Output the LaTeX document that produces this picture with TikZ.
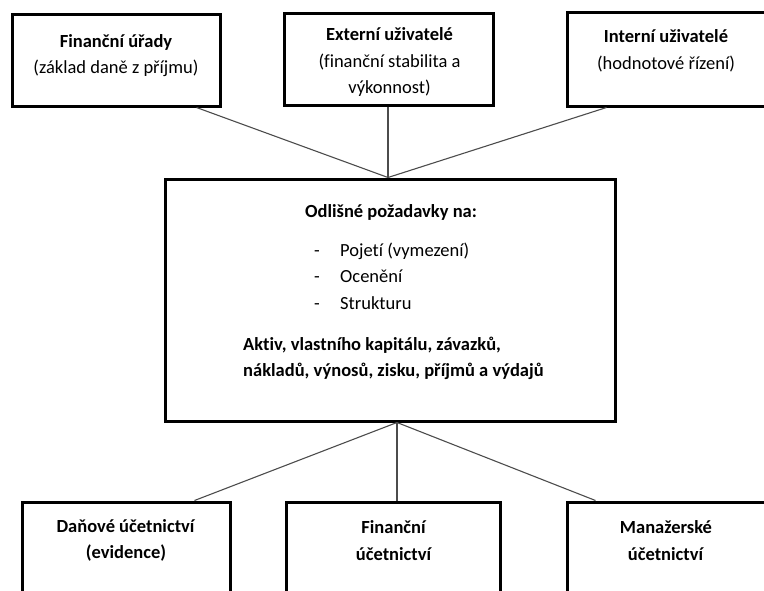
\documentclass[tikz,border=0pt]{standalone}
\usepackage{fontspec}
\setmainfont{Carlito}[Ligatures=NoCommon]
\usetikzlibrary{positioning,calc}
\begin{document}
\begin{tikzpicture}[x=1pt,y=-1pt,
    box/.style={draw,line width=3pt,inner sep=0pt},
    link/.style={draw,line width=1.1pt,black!70},
    txt/.style={align=center,inner sep=0pt,font=\fontsize{18.5}{26.5}\selectfont}]

  \useasboundingbox[clip] (0,0) rectangle (764,590);

  % users on top
  \node[box,minimum width=208pt,minimum height=92pt] (fu)  at (116,60)  {};
  \node[box,minimum width=209pt,minimum height=92pt] (ext) at (388.5,59.5) {};
  \node[box,minimum width=210pt,minimum height=94pt] (int) at (672,59) {};

  \node[txt] (fu-t)  at (116,55.5) {\textbf{Finanční úřady}\\(základ daně z příjmu)};
  \node[txt] (ext-t) at (389.5,62) {\textbf{Externí uživatelé}\\(finanční stabilita a\\výkonnost)};
  \node[txt] (int-t) at (666,51)   {\textbf{Interní uživatelé}\\(hodnotové řízení)};

  % requirements
  \node[box,minimum width=450pt,minimum height=242pt] (req) at (390,300) {};
  \node[txt] (req-t) at (391,212) {\textbf{Odlišné požadavky na:}};
  \node[txt,align=left,anchor=west] (req-l) at (314,276)
    {\makebox[26pt][l]{-}Pojetí (vymezení)\\\makebox[26pt][l]{-}Ocenění\\\makebox[26pt][l]{-}Strukturu};
  \node[txt,align=left,anchor=west] (req-p) at (243,358.5)
    {\textbf{Aktiv, vlastního kapitálu, závazků,}\\\textbf{nákladů, výnosů, zisku, příjmů a výdajů}};
  \coordinate (req-in)  at ([xshift=-2pt]req.north);
  \coordinate (req-out) at ([xshift=7pt]req.south);

  % accounting below
  \node[box,minimum width=208pt,minimum height=120pt] (dan) at (126,562) {};
  \node[box,minimum width=214pt,minimum height=120pt] (fin) at (393,562) {};
  \node[box,minimum width=210pt,minimum height=120pt] (man) at (672,562) {};

  \node[txt] (dan-t) at (126,540.5) {\textbf{Daňové účetnictví}\\\textbf{(evidence)}};
  \node[txt] (fin-t) at (394,540.5) {\textbf{Finanční}\\\textbf{účetnictví}};
  \node[txt] (man-t) at (666,540.5) {\textbf{Manažerské}\\\textbf{účetnictví}};

  \path[link] ([xshift=-25pt]fu.south east) -- (req-in);
  \path[link] (ext.south -| req-in) -- (req-in);
  \path[link] ([xshift=41pt]int.south west) -- (req-in);
  \path[link] (req-out) -- ([xshift=-37pt]dan.north east);
  \path[link] (req-out) -- (req-out |- fin.north);
  \path[link] (req-out) -- ([xshift=30pt]man.north west);

\end{tikzpicture}
\end{document}
